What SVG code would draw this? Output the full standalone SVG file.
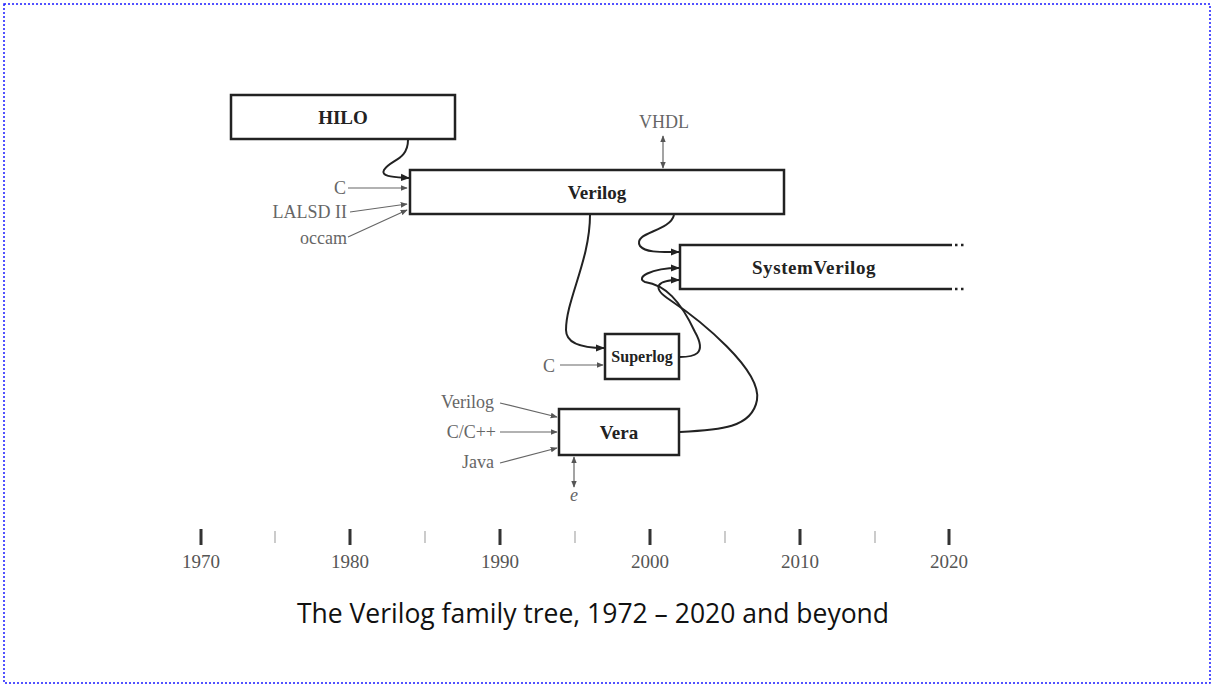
<svg xmlns="http://www.w3.org/2000/svg" width="1211" height="684" viewBox="0 0 1211 684">
<defs>
<marker id="ah" viewBox="0 0 10 10" refX="9" refY="5" markerWidth="9" markerHeight="9" markerUnits="userSpaceOnUse" orient="auto-start-reverse"><path d="M0,1 L10,5 L0,9 Z" fill="#222"/></marker>
<marker id="ahg" viewBox="0 0 10 10" refX="9" refY="5" markerWidth="7" markerHeight="7" markerUnits="userSpaceOnUse" orient="auto-start-reverse"><path d="M0,1 L10,5 L0,9 Z" fill="#555"/></marker>
<style>
.box{fill:#fff;stroke:#222;stroke-width:2.5}
.bt{font-family:"Liberation Serif",serif;font-weight:bold;font-size:19px;fill:#222;text-anchor:middle}
.lab{font-family:"Liberation Serif",serif;font-size:18px;fill:#666}
.yr{font-family:"Liberation Serif",serif;font-size:19px;fill:#555;text-anchor:middle}
.c{fill:none;stroke:#222;stroke-width:2;marker-end:url(#ah)}
.g{fill:none;stroke:#666;stroke-width:1.2;marker-end:url(#ahg)}
.maj{stroke:#333;stroke-width:3}
.min{stroke:#aaa;stroke-width:1.2}
</style>
</defs>
<rect x="4" y="4" width="1206" height="679" fill="#fff" stroke="#1a1aff" stroke-width="1.5" stroke-dasharray="2,2"/>

<g id="connectors">
<path class="c" d="M408,140 C408,160 390,160 384,170 C380,177 395,177 409,178"/>
<path class="c" d="M674,215 C670,232 632,232 640,246 C646,253 662,252 679,252"/>
<path class="c" d="M590,215 C590,260 566,300 566,330 C566,345 585,348 604,348"/>
<path class="c" d="M680,357 C693,357 708,355 695,332 C680,300 665,285 645,282 C635,278 650,268 679,268"/>
<path class="c" d="M680,432 C720,430 752,428 757,400 C762,370 700,320 670,300 C650,287 658,280 679,280"/>
<path class="g" d="M348,188 L407,188"/>
<path class="g" d="M350,212 L407,204"/>
<path class="g" d="M348,237 L407,210"/>
<path class="g" d="M663,136 L663,168" marker-start="url(#ahg)"/>
<path class="g" d="M560,365 L603,365"/>
<path class="g" d="M500,403 L557,417"/>
<path class="g" d="M500,432 L557,432"/>
<path class="g" d="M500,463 L557,448"/>
<path class="g" d="M574,457 L574,487" marker-start="url(#ahg)"/>
</g>

<g id="hilo"><rect class="box" x="231" y="95" width="224" height="44"/><text class="bt" x="343" y="124">HILO</text></g>
<g id="verilog"><rect class="box" x="410" y="170" width="374" height="44"/><text class="bt" x="597" y="199">Verilog</text></g>
<g id="systemverilog">
<path d="M952,245 L680,245 L680,289 L952,289" fill="#fff" stroke="#222" stroke-width="2.5"/>
<path d="M955,245 H966 M955,289 H966" stroke="#222" stroke-width="2.5" stroke-dasharray="2.5,3.5"/>
<text class="bt" x="814" y="274" letter-spacing="0.6">SystemVerilog</text>
</g>
<g id="superlog"><rect class="box" x="605" y="334" width="74" height="45"/><text class="bt" x="642" y="362" style="font-size:16px">Superlog</text></g>
<g id="vera"><rect class="box" x="559" y="409" width="120" height="46"/><text class="bt" x="619" y="439">Vera</text></g>

<g id="labels">
<text class="lab" x="346" y="194" text-anchor="end">C</text>
<text class="lab" x="347" y="218" text-anchor="end">LALSD II</text>
<text class="lab" x="347" y="244" text-anchor="end">occam</text>
<text class="lab" x="664" y="128" text-anchor="middle">VHDL</text>
<text class="lab" x="555" y="372" text-anchor="end">C</text>
<text class="lab" x="494" y="408" text-anchor="end">Verilog</text>
<text class="lab" x="496" y="438" text-anchor="end">C/C++</text>
<text class="lab" x="494" y="468" text-anchor="end">Java</text>
<text class="lab" x="574" y="501" text-anchor="middle" font-style="italic">e</text>
</g>

<g id="timeline">
<path class="maj" d="M201,529V545 M350,529V545 M500,529V545 M650,529V545 M800,529V545 M949,529V545"/>
<path class="min" d="M275,531V543 M425,531V543 M575,531V543 M725,531V543 M875,531V543"/>
<text class="yr" x="201" y="568">1970</text>
<text class="yr" x="350" y="568">1980</text>
<text class="yr" x="500" y="568">1990</text>
<text class="yr" x="650" y="568">2000</text>
<text class="yr" x="800" y="568">2010</text>
<text class="yr" x="949" y="568">2020</text>
</g>

<text x="593" y="623" font-family="'Open Sans',sans-serif" font-size="26.5" fill="#111" text-anchor="middle">The Verilog family tree, 1972 – 2020 and beyond</text>
</svg>
